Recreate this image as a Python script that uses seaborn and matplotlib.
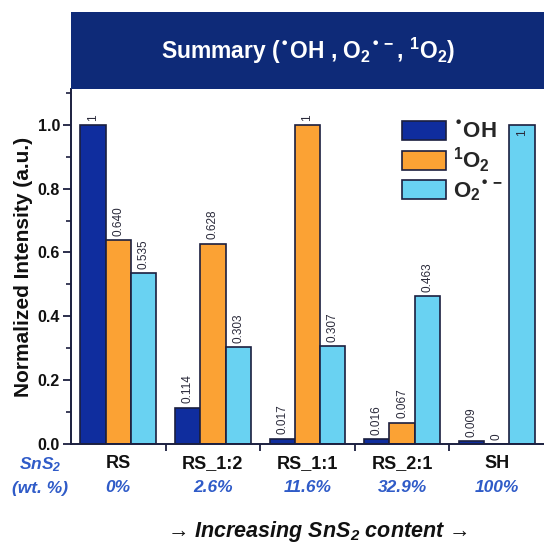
import numpy as np
import pandas as pd
import matplotlib
matplotlib.use("Agg")
import matplotlib.pyplot as plt
from matplotlib.patches import Rectangle
from matplotlib.ticker import MultipleLocator, FixedLocator
import seaborn as sns

# Samples, ordered by SnS2 content
samples = ["RS", "RS_1:2", "RS_1:1", "RS_2:1", "SH"]
sns2_content = ["0%", "2.6%", "11.6%", "32.9%", "100%"]

# Reactive species (legend labels)
species = ["$^{\u2022}$OH", "$^{1}$O$_{2}$", "O$_{2}$$^{\u2022-}$"]

# Normalized intensities per species
oh_values = [1.0, 0.114, 0.017, 0.016, 0.009]
singlet_o2_values = [0.640, 0.628, 1.0, 0.067, 0.0]
superoxide_values = [0.535, 0.303, 0.307, 0.463, 1.0]

bar_colors = ["#0F2D9E", "#FBA234", "#69D2F2"]

df = pd.DataFrame({
    "sample": samples * 3,
    "species": [species[0]] * 5 + [species[1]] * 5 + [species[2]] * 5,
    "value": oh_values + singlet_o2_values + superoxide_values,
})

sns.set_theme(style="ticks")
plt.rcParams["font.family"] = ["Liberation Sans", "DejaVu Sans"]
plt.rcParams["font.weight"] = "bold"
plt.rcParams["mathtext.default"] = "regular"

W, H = 544, 547
fig = plt.figure(figsize=(W / 100, H / 100), dpi=100)
ax = fig.add_axes([71 / W, 1 - 444 / H, 1 - 71 / W, (444 - 89) / H])

sns.barplot(data=df, x="sample", y="value", hue="species",
            order=samples, hue_order=species, palette=bar_colors,
            saturation=1, edgecolor="#1b1f3f", linewidth=1.2, width=0.8,
            gap=0, ax=ax)

ax.set_ylim(0, 1.112)
ax.set_xlim(-0.5, 4.5)

# Value labels above (or just inside) each bar
spine_col = "#1b1f3f"
for j, cont in enumerate(ax.containers):
    for i, bar in enumerate(cont):
        v = bar.get_height()
        txt = str(int(v)) if v in (0.0, 1.0) else f"{v:.3f}"
        xc = bar.get_x() + bar.get_width() / 2
        inside = (samples[i] == "SH" and j == 2)
        ax.annotate(txt, (xc, v), xytext=(0, -3 if inside else 3),
                    textcoords="offset points", rotation=90,
                    ha="center", va="top" if inside else "bottom",
                    fontsize=8.5, fontweight="normal", color="#2a2a3a")

# Axes styling
sns.despine(ax=ax)
for s in ("left", "bottom"):
    ax.spines[s].set_linewidth(1.4)
    ax.spines[s].set_color(spine_col)
ax.yaxis.set_major_locator(MultipleLocator(0.2))
ax.yaxis.set_minor_locator(MultipleLocator(0.1))
ax.xaxis.set_minor_locator(FixedLocator([0.5, 1.5, 2.5, 3.5]))
ax.tick_params(axis="y", which="major", length=6, width=1.3, color=spine_col,
               labelsize=11.5, pad=2)
ax.tick_params(axis="y", which="minor", length=3.5, width=1.2, color=spine_col)
ax.tick_params(axis="x", which="major", length=0, labelsize=13, pad=8)
ax.tick_params(axis="x", which="minor", length=5, width=1.3, color=spine_col)
for lab in ax.get_xticklabels() + ax.get_yticklabels():
    lab.set_fontweight("bold")
    lab.set_color("#111111")
ax.set_xlabel("")
ax.set_ylabel("Normalized Intensity (a.u.)", fontsize=15,
              fontweight="bold", labelpad=3, color="#111111")

# Legend
handles, labels = ax.get_legend_handles_labels()
ax.legend(handles, labels, loc="upper left",
          bbox_to_anchor=(402 / W, 1 - 121 / H), bbox_transform=fig.transFigure,
          frameon=False, prop={"weight": "bold", "size": 16},
          handlelength=2.0, handleheight=0.95, labelspacing=0.12,
          handletextpad=0.3, borderpad=0, borderaxespad=0)

# SnS2 content row under the sample names
blue_txt = "#2F5BC8"
fig.text(40 / W, 1 - 465 / H, "SnS$_2$", color=blue_txt, fontsize=12.5,
         fontweight="bold", style="italic", ha="center", va="center")
fig.text(40 / W, 1 - 488 / H, "(wt. %)", color=blue_txt, fontsize=12.5,
         fontweight="bold", style="italic", ha="center", va="center")
for i, pct in enumerate(sns2_content):
    ax.text(i, -(488 - 444) / (444 - 89), pct, transform=ax.get_xaxis_transform(),
            color=blue_txt, fontsize=12.5, fontweight="bold", style="italic",
            ha="center", va="center")

fig.text(317 / W, 1 - 532 / H, "\u2192 Increasing SnS$_2$ content \u2192",
         fontsize=15.5, fontweight="bold", style="italic", color="#111111",
         ha="center", va="center")

# Title banner
fig.add_artist(Rectangle((71 / W, 1 - 89 / H), 1 - 71 / W, (89 - 12) / H,
                         transform=fig.transFigure, facecolor="#0E2A78",
                         edgecolor="none", zorder=5))
fig.text(0.567, 1 - 51 / H,
         "Summary ($^{\u2022}$OH , O$_2$$^{\u2022-}$, $^1$O$_2$)",
         color="white", fontsize=16.5, fontweight="bold",
         ha="center", va="center", zorder=6)

fig.savefig("out.png", dpi=100)
